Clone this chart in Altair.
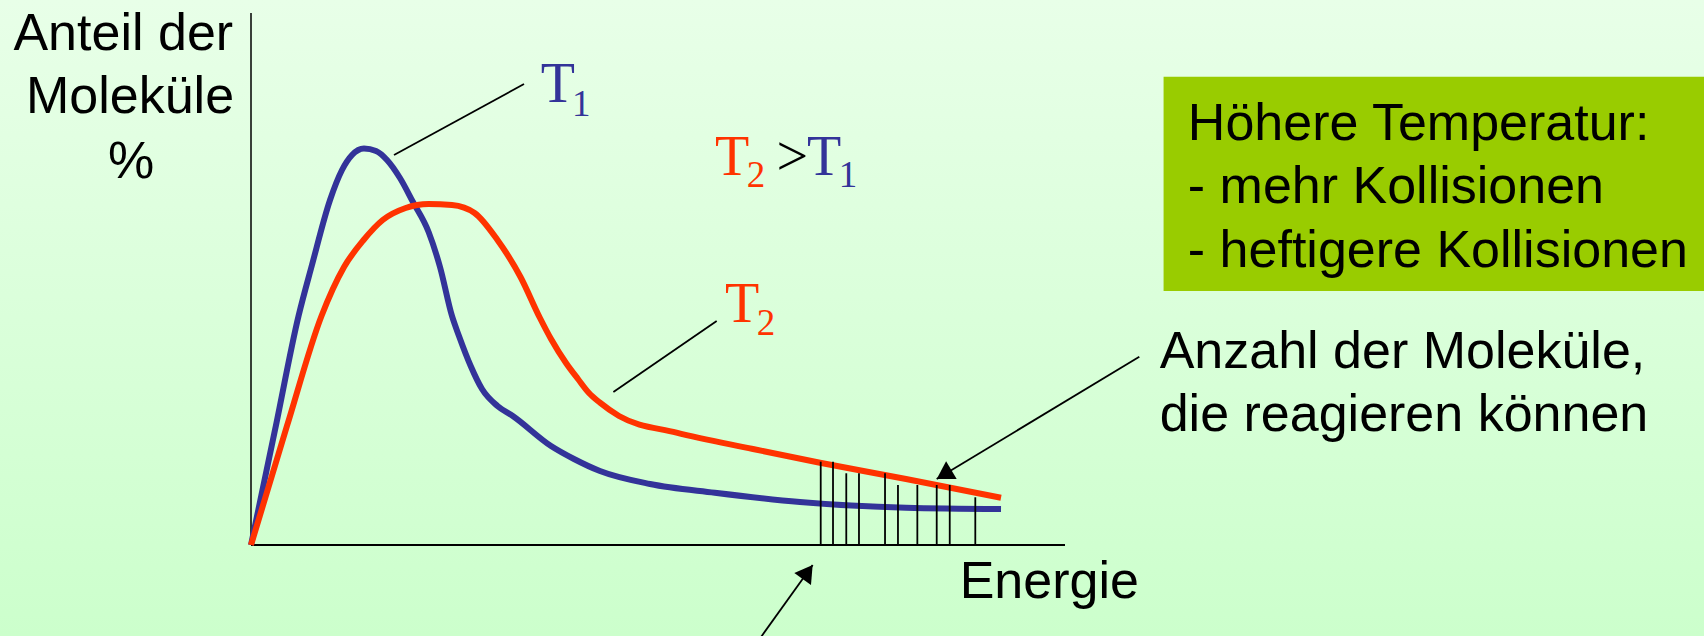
import altair as alt
import pandas as pd

# Energy (x) and share of molecules (y), both in arbitrary units 0..10
energy_t1 = [0.0, 0.295, 0.584, 0.749, 0.971, 1.118, 1.241, 1.388, 1.536, 1.671,
             1.830, 1.990, 2.182, 2.322, 2.469, 2.555, 2.699, 2.838, 3.028, 3.216,
             3.686, 3.968, 4.287, 4.902, 5.698, 6.744, 8.047, 9.214]
share_t1 = [0.0, 2.162, 4.305, 5.263, 6.485, 7.049, 7.331, 7.453, 7.406, 7.237,
            6.898, 6.447, 5.883, 5.226, 4.305, 3.929, 3.365, 2.932, 2.613, 2.425,
            1.861, 1.617, 1.391, 1.147, 0.983, 0.808, 0.701, 0.677]

energy_t2 = [0.0, 0.442, 0.866, 1.143, 1.383, 1.618, 1.900, 2.182,
             2.469, 2.747, 3.028, 3.311, 3.550, 3.686, 3.870, 4.017, 4.152, 4.287,
             4.521, 5.227, 6.167, 6.990, 8.047, 9.214]
share_t2 = [0.0, 2.237, 4.305, 5.226, 5.733, 6.109, 6.335, 6.410,
            6.391, 6.241, 5.733, 5.038, 4.267, 3.872, 3.421, 3.120, 2.857, 2.675,
            2.425, 2.111, 1.805, 1.547, 1.241, 0.889]

# molecules above the activation energy (hatching)
hatch_energy = [6.999, 7.150, 7.313, 7.469, 7.789, 7.948, 8.186, 8.424, 8.584, 8.898]
hatch_top = [1.566, 1.566, 1.348, 1.348, 1.348, 1.128, 1.128, 1.128, 1.128, 0.897]

BLUE = "#333399"
RED = "#FF3300"
SANS = "Liberation Sans"
SERIF = "Liberation Serif"

SCALE_X = alt.Scale(domain=[0, 10], nice=False, zero=False)
SCALE_Y = alt.Scale(domain=[0, 10], nice=False, zero=False)


def X(field):
    return alt.X(field, type="quantitative", scale=SCALE_X, axis=None)


def Y(field):
    return alt.Y(field, type="quantitative", scale=SCALE_Y, axis=None)


t1 = pd.DataFrame({"e": energy_t1, "f": share_t1})
t2 = pd.DataFrame({"e": energy_t2, "f": share_t2})
hatch = pd.DataFrame({"e": hatch_energy, "f": [0.0] * len(hatch_energy), "f2": hatch_top})

# page background
backdrop = alt.Chart(pd.DataFrame({"k": [0]})).mark_rect(
    color=alt.LinearGradient(
        gradient="linear",
        stops=[alt.GradientStop(color="#E8FFE8", offset=0),
               alt.GradientStop(color="#CCFFCC", offset=1)],
        x1=0, x2=0, y1=0, y2=1,
    )
).encode(x=alt.value(-251), x2=alt.value(1453), y=alt.value(-13), y2=alt.value(623))

# axis lines (energy axis and share axis)
x_axis = alt.Chart(pd.DataFrame({"e": [0.0], "e2": [10.0], "f": [0.0]})).mark_rule(
    color="black", strokeWidth=2).encode(x=X("e"), x2="e2", y=Y("f"))
y_axis = alt.Chart(pd.DataFrame({"e": [0.0], "f": [0.0], "f2": [10.0]})).mark_rule(
    color="black", strokeWidth=1.5).encode(x=X("e"), y=Y("f"), y2="f2")

# info box
box_df = pd.DataFrame({"e": [11.211], "e2": [17.9], "f": [4.774], "f2": [8.803]})
box = alt.Chart(box_df).mark_rect(color="#99CC00").encode(
    x=X("e"), x2="e2", y=Y("f"), y2="f2")

curve_t1 = alt.Chart(t1).mark_line(color=BLUE, strokeWidth=6, interpolate="monotone").encode(
    x=X("e"), y=Y("f"))
curve_t2 = alt.Chart(t2).mark_line(color=RED, strokeWidth=6, interpolate="monotone").encode(
    x=X("e"), y=Y("f"))

hatch_lines = alt.Chart(hatch).mark_rule(color="black", strokeWidth=1.8).encode(
    x=X("e"), y=Y("f"), y2="f2")

# leader lines and arrows
leaders_df = pd.DataFrame({
    "e": [1.757, 4.452, 10.913, 6.063],
    "f": [7.331, 2.876, 3.539, -2.162],
    "e2": [3.354, 5.721, 8.424, 6.900],
    "f2": [8.665, 4.211, 1.241, -0.376],
})
leaders = alt.Chart(leaders_df).mark_rule(color="black", strokeWidth=1.8).encode(
    x=X("e"), y=Y("f"), x2="e2", y2="f2")

heads_df = pd.DataFrame({"e": [8.424, 6.900], "f": [1.241, -0.376], "ang": [238.9, 35.7]})
heads = alt.Chart(heads_df).mark_point(
    shape="M0,0L-0.49,0.82L0.49,0.82Z", filled=True, opacity=1, color="black", size=1750
).encode(x=X("e"), y=Y("f"), angle=alt.Angle("ang:Q", scale=None))

# sans-serif texts
sans_df = pd.DataFrame({
    "e": [-1.569, -1.486, -1.474],
    "f": [9.305, 8.120, 6.898],
    "t": ["Anteil der", "Moleküle", "%"],
})
ylabel = alt.Chart(sans_df).mark_text(
    font=SANS, fontSize=52, align="center", baseline="alphabetic", color="black"
).encode(x=X("e"), y=Y("f"), text="t")

notes_df = pd.DataFrame({
    "e": [8.706, 11.163, 11.163, 11.509, 11.509, 11.509],
    "f": [-0.991, 3.333, 2.143, 7.613, 6.423, 5.231],
    "t": ["Energie", "Anzahl der Moleküle,", "die reagieren können",
          "Höhere Temperatur:", "- mehr Kollisionen", "- heftigere Kollisionen"],
})
notes = alt.Chart(notes_df).mark_text(
    font=SANS, fontSize=52, align="left", baseline="alphabetic", color="black"
).encode(x=X("e"), y=Y("f"), text="t")

# temperature symbols (serif)
big_df = pd.DataFrame({
    "e": [3.559, 5.700, 6.456, 6.830, 5.823],
    "f": [8.333, 6.955, 6.955, 6.955, 4.197],
    "t": ["T", "T", ">", "T", "T"],
    "c": [BLUE, RED, "black", BLUE, RED],
})
big = alt.Chart(big_df).mark_text(
    font=SERIF, fontSize=56, align="left", baseline="alphabetic"
).encode(x=X("e"), y=Y("f"), text="t", color=alt.Color("c:N", scale=None))

sub_df = pd.DataFrame({
    "e": [3.944, 6.090, 7.222, 6.213],
    "f": [8.064, 6.724, 6.724, 3.947],
    "t": ["1", "2", "1", "2"],
    "c": [BLUE, RED, BLUE, RED],
})
sub = alt.Chart(sub_df).mark_text(
    font=SERIF, fontSize=37, align="left", baseline="alphabetic"
).encode(x=X("e"), y=Y("f"), text="t", color=alt.Color("c:N", scale=None))

chart = alt.layer(
    backdrop, box, x_axis, y_axis, curve_t1, curve_t2, hatch_lines, leaders, heads,
    ylabel, notes, big, sub,
).properties(
    width=814,
    height=532,
    padding={"left": 251, "top": 13, "right": 639, "bottom": 91},
    autosize="none",
    background="#DDFFDD",
).configure_view(
    stroke=None
)

chart.save("out.html", embed_options={"renderer": "svg", "actions": False})
